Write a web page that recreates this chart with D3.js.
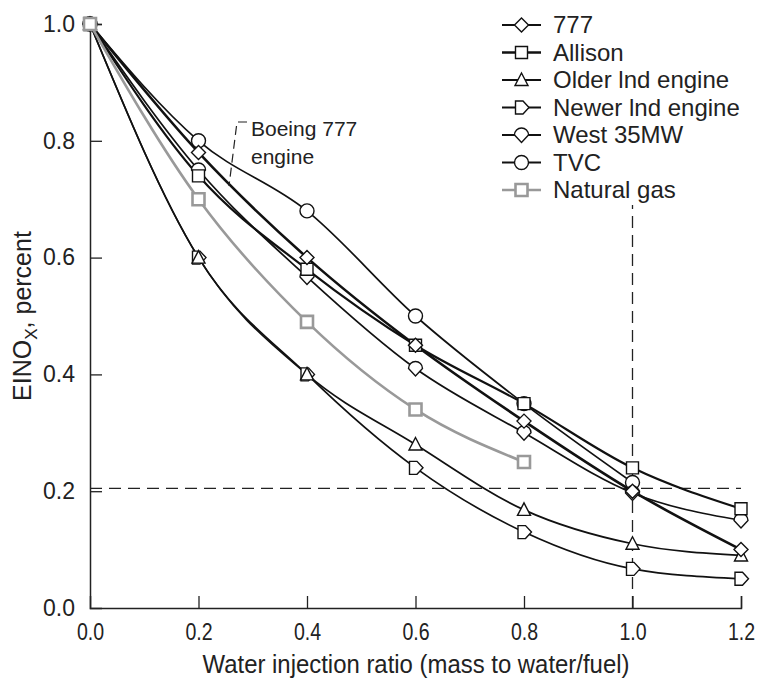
<!DOCTYPE html>
<html>
<head>
<meta charset="utf-8">
<script src="https://cdn.jsdelivr.net/npm/d3@7"></script>
<style>
  body { margin: 0; background: #fff; }
  svg { font-family: "Liberation Sans", Arial, sans-serif; }
</style>
</head>
<body>
<div id="chart"></div>
<script>
(function(d3) {
  'use strict';

  // water injection ratio
  var ratios = [0, 0.2, 0.4, 0.6, 0.8, 1.0, 1.2];
  var xTicks = [0, 0.2, 0.4, 0.6, 0.8, 1.0, 1.2];
  var yTicks = [0, 0.2, 0.4, 0.6, 0.8, 1.0];

  var names = ['777', 'Allison', 'Older lnd engine', 'Newer lnd engine', 'West 35MW', 'TVC', 'Natural gas'];
  var v777     = [1.0, 0.78, 0.60, 0.45, 0.32, 0.20, 0.10];
  var vAllison = [1.0, 0.74, 0.58, 0.45, 0.35, 0.24, 0.17];
  var vOlder   = [1.0, 0.60, 0.40, 0.28, 0.168, 0.11, 0.09];
  var vNewer   = [1.0, 0.60, 0.40, 0.24, 0.13, 0.067, 0.05];
  var vWest    = [1.0, 0.75, 0.567, 0.41, 0.30, 0.197, 0.15];
  var vTVC     = [1.0, 0.80, 0.68, 0.50, 0.35, 0.215];
  var vGas     = [1.0, 0.70, 0.49, 0.34, 0.25];

  var refX = 1.0, refY = 0.205, refTop = 0.69;

  var width = 758, height = 679;
  var x = d3.scaleLinear().domain([0, 1.2]).range([90, 741]);
  var y = d3.scaleLinear().domain([0, 1.0]).range([608, 24]);

  var svg = d3.select('#chart').append('svg')
    .attr('width', width).attr('height', height);

  // reference lines
  svg.append('line')
    .attr('x1', x(0)).attr('x2', x(1.2))
    .attr('y1', y(refY)).attr('y2', y(refY))
    .attr('stroke', '#222').attr('stroke-width', 1.3)
    .attr('stroke-dasharray', '12,7');
  svg.append('line')
    .attr('x1', x(refX)).attr('x2', x(refX))
    .attr('y1', y(0)).attr('y2', y(refTop))
    .attr('stroke', '#222').attr('stroke-width', 1.3)
    .attr('stroke-dasharray', '12,7');

  // axes
  var xAxis = d3.axisBottom(x).tickValues(xTicks).tickSize(-12).tickPadding(22)
    .tickFormat(d3.format('.1f'));
  var yAxis = d3.axisLeft(y).tickValues(yTicks).tickSize(-12).tickPadding(15)
    .tickFormat(d3.format('.1f'));

  var gx = svg.append('g').attr('transform', 'translate(0,' + y(0) + ')').call(xAxis);
  var gy = svg.append('g').attr('transform', 'translate(' + x(0) + ',0)').call(yAxis);
  [gx, gy].forEach(function(g) {
    g.select('.domain').attr('stroke', '#222').attr('stroke-width', 1.5);
    g.selectAll('.tick line').attr('stroke', '#222').attr('stroke-width', 1.3);
    g.selectAll('.tick text').attr('font-size', 23).attr('fill', '#222')
      .attr('font-family', '"Liberation Sans", Arial, sans-serif');
  });
  gx.selectAll('.tick text').attr('dy', '0.35em')
    .attr('transform', 'scale(0.85,1.08)');
  gy.selectAll('.tick line').filter(function(d) { return d === 0; }).remove();
  gx.selectAll('.tick line').filter(function(d) { return d === 0; }).remove();

  svg.append('text')
    .attr('x', 416).attr('y', 673)
    .attr('text-anchor', 'middle').attr('font-size', 26).attr('fill', '#222')
    .attr('transform', 'translate(' + (416 * 0.08) + ',0) scale(0.92,1)')
    .text('Water injection ratio (mass to water/fuel)');

  var yl = svg.append('text')
    .attr('transform', 'translate(31,' + 316 + ') rotate(-90)')
    .attr('text-anchor', 'middle').attr('font-size', 25).attr('fill', '#222');
  yl.append('tspan').text('EINO');
  yl.append('tspan').attr('font-size', 17).attr('dy', 6).text('X');
  yl.append('tspan').attr('dy', -6).text(', percent');

  // marker shapes
  function markerPath(type) {
    var s = 7;
    if (type === 'diamond') return 'M0,' + (-s) + 'L' + s + ',0L0,' + s + 'L' + (-s) + ',0Z';
    if (type === 'square') return 'M-6,-6H6V6H-6Z';
    if (type === 'triangle') return 'M0,-7L6.5,5.5L-6.5,5.5Z';
    if (type === 'pentagon') return 'M-6,-6.5H1.5L7.5,0L1.5,6.5H-6Z';
    if (type === 'drop') return 'M-7,0A7,7 0 0 1 7,0L0,7.5Z';
    if (type === 'circle') return 'M-7,0A7,7 0 1 1 7,0A7,7 0 1 1 -7,0Z';
    return '';
  }

  var series = [
    { name: names[5], values: vTVC, marker: 'circle', color: '#111', width: 1.7 },
    { name: names[4], values: vWest, marker: 'drop', color: '#111', width: 1.7 },
    { name: names[3], values: vNewer, marker: 'pentagon', color: '#111', width: 1.7 },
    { name: names[2], values: vOlder, marker: 'triangle', color: '#111', width: 1.7 },
    { name: names[1], values: vAllison, marker: 'square', color: '#111', width: 2.2 },
    { name: names[0], values: v777, marker: 'diamond', color: '#111', width: 2.6 },
    { name: names[6], values: vGas, marker: 'square', color: '#999', width: 2.6 }
  ];

  var line = d3.line()
    .x(function(d) { return x(d[0]); })
    .y(function(d) { return y(d[1]); })
    .curve(d3.curveMonotoneX);

  series.forEach(function(s) {
    var pts = s.values.map(function(v, i) { return [ratios[i], v]; });
    svg.append('path')
      .attr('d', line(pts))
      .attr('fill', 'none')
      .attr('stroke', s.color)
      .attr('stroke-width', s.width);
  });

  series.forEach(function(s) {
    var pts = s.values.map(function(v, i) { return [ratios[i], v]; });
    svg.selectAll(null)
      .data(pts)
      .enter()
      .append('path')
      .attr('transform', function(d) { return 'translate(' + x(d[0]) + ',' + y(d[1]) + ')'; })
      .attr('d', markerPath(s.marker))
      .attr('fill', '#fff')
      .attr('stroke', s.color)
      .attr('stroke-width', s.color === '#999' ? 2.6 : 1.4);
  });

  // annotation
  svg.append('path')
    .attr('d', 'M247,122H237L229,186')
    .attr('fill', 'none').attr('stroke', '#222').attr('stroke-width', 1.2)
    .attr('stroke-dasharray', '9,5');
  svg.append('text').attr('x', 251).attr('y', 136)
    .attr('font-size', 21).attr('fill', '#222').text('Boeing 777');
  svg.append('text').attr('x', 251).attr('y', 164)
    .attr('font-size', 21).attr('fill', '#222').text('engine');

  // legend
  var legendOrder = [
    { name: names[0], marker: 'diamond', color: '#111', width: 2 },
    { name: names[1], marker: 'square', color: '#111', width: 2.6 },
    { name: names[2], marker: 'triangle', color: '#111', width: 2 },
    { name: names[3], marker: 'pentagon', color: '#111', width: 2 },
    { name: names[4], marker: 'drop', color: '#111', width: 2 },
    { name: names[5], marker: 'circle', color: '#111', width: 2 },
    { name: names[6], marker: 'square', color: '#999', width: 2.6 }
  ];

  var legend = svg.selectAll('.legend')
    .data(legendOrder)
    .enter()
    .append('g')
    .attr('class', 'legend')
    .attr('transform', function(d, i) { return 'translate(502,' + (25 + i * 27.5) + ')'; });

  legend.append('line')
    .attr('x1', 0).attr('x2', 39)
    .attr('stroke', function(d) { return d.color; })
    .attr('stroke-width', function(d) { return d.width; });
  legend.append('path')
    .attr('transform', 'translate(19.5,0)')
    .attr('d', function(d) { return markerPath(d.marker); })
    .attr('fill', '#fff')
    .attr('stroke', function(d) { return d.color; })
    .attr('stroke-width', function(d) { return d.color === '#999' ? 2.6 : 1.4; });
  legend.append('text')
    .attr('x', 51).attr('dy', '0.35em')
    .attr('font-size', 24).attr('fill', '#222')
    .text(function(d) { return d.name; });

})(window.d3);
</script>
</body>
</html>
